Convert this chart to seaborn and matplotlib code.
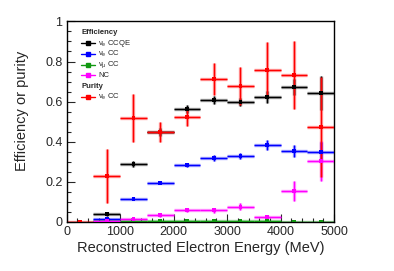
import numpy as np
import pandas as pd
import matplotlib
matplotlib.use("Agg")
import matplotlib.pyplot as plt
import seaborn as sns
from matplotlib.ticker import MultipleLocator

# bin centres (MeV), half width of each bin
energy = [250, 750, 1250, 1750, 2250, 2750, 3250, 3750, 4250, 4750]
half_bin = 250

# efficiency curves
eff_nue_ccqe = [np.nan, 0.038, 0.288, 0.450, 0.563, 0.608, 0.600, 0.625, 0.675, 0.645]
err_nue_ccqe = [np.nan, 0.010, 0.015, 0.020, 0.020, 0.020, 0.020, 0.030, 0.040, 0.085]
eff_nue_cc = [np.nan, 0.015, 0.115, 0.196, 0.282, 0.321, 0.331, 0.384, 0.354, 0.348]
err_nue_cc = [np.nan, 0.005, 0.008, 0.008, 0.010, 0.015, 0.015, 0.025, 0.030, 0.050]
eff_numu_cc = [np.nan, 0.003, 0.003, 0.007, 0.007, 0.005, 0.005, 0.005, 0.002, 0.002]
err_numu_cc = [np.nan, 0.002, 0.002, 0.003, 0.003, 0.003, 0.003, 0.003, 0.002, 0.002]
eff_nc = [np.nan, 0.005, 0.013, 0.033, 0.060, 0.058, 0.076, 0.023, 0.155, 0.304]
err_nc = [np.nan, 0.004, 0.005, 0.008, 0.010, 0.012, 0.018, 0.010, 0.050, 0.100]

# purity
pur_nue_cc = [0.0, 0.229, 0.520, 0.450, 0.525, 0.712, 0.678, 0.758, 0.733, 0.472]
err_pur_nue_cc = [0.0, 0.135, 0.120, 0.050, 0.045, 0.080, 0.095, 0.140, 0.170, 0.250]

series = [
    ("Efficiency", r"$\mathregular{\nu_e}$ CCQE", eff_nue_ccqe, err_nue_ccqe, "black"),
    ("Efficiency", r"$\mathregular{\nu_e}$ CC", eff_nue_cc, err_nue_cc, "#0000ff"),
    ("Efficiency", r"$\mathregular{\nu_\mu}$ CC", eff_numu_cc, err_numu_cc, "#119911"),
    ("Efficiency", "NC", eff_nc, err_nc, "#ff00ff"),
    ("Purity", r"$\mathregular{\nu_e}$ CC", pur_nue_cc, err_pur_nue_cc, "#ff0000"),
]

sns.set_theme(style="ticks")
plt.rcParams["font.family"] = ["Liberation Sans", "DejaVu Sans"]

fig = plt.figure(figsize=(3.94, 2.71), dpi=100)
ax = fig.add_axes([0.169, 0.181, 0.679, 0.740])

rows = []
for group, label, vals, errs, color in series:
    e = np.array(errs)
    # translucent band first, then solid cross on top
    ax.errorbar(energy, vals, xerr=half_bin, yerr=e, fmt="none", ecolor=color,
                elinewidth=2.4, alpha=0.4, capsize=0, zorder=2)
    ax.errorbar(energy, vals, xerr=half_bin, yerr=e, fmt="none", ecolor=color,
                elinewidth=0.9, capsize=0, zorder=3)
    for x, v in zip(energy, vals):
        rows.append({"energy": x, "value": v, "series": group + label})

df = pd.DataFrame(rows).dropna()
palette = {g + l: c for g, l, _, _, c in series}
sns.scatterplot(data=df, x="energy", y="value", hue="series", palette=palette,
                marker="s", s=8, linewidth=0, legend=False, ax=ax, zorder=4)

ax.set_xlim(0, 5000)
ax.set_ylim(0, 1)
ax.xaxis.set_major_locator(MultipleLocator(1000))
ax.xaxis.set_minor_locator(MultipleLocator(200))
ax.yaxis.set_major_locator(MultipleLocator(0.2))
ax.yaxis.set_minor_locator(MultipleLocator(0.05))
ax.set_yticks([0, 0.2, 0.4, 0.6, 0.8, 1.0])
ax.set_yticklabels(["0", "0.2", "0.4", "0.6", "0.8", "1"])
ax.tick_params(which="both", direction="in", labelsize=9, pad=3, width=0.8)
ax.tick_params(which="major", length=6)
ax.tick_params(which="minor", length=3)
for s in ax.spines.values():
    s.set_linewidth(1.0)
    s.set_color("black")

ax.set_xlabel("Reconstructed Electron Energy (MeV)", fontsize=10.5, labelpad=2)
ax.set_ylabel("Efficiency or purity", fontsize=10.5, labelpad=6)
ax.yaxis.set_label_coords(-0.14, 0.555)

# hand-built ROOT style legend
tr = ax.transAxes
y0, dy = 0.944, 0.0534
lx0, lx1, tx = 0.054, 0.107, 0.118
row = 0
last_group = None
for group, label, _, _, color in series:
    if group != last_group:
        ax.text(lx0, y0 - row * dy, group, transform=tr, fontsize=5.5,
                fontweight="bold", va="center", ha="left")
        row += 1
        last_group = group
    yy = y0 - row * dy
    ax.plot([lx0, lx1], [yy, yy], color=color, lw=1.0, transform=tr)
    ax.plot([(lx0 + lx1) / 2], [yy], marker="s", ms=2.5, color=color, transform=tr)
    ax.text(tx, yy, label, transform=tr, fontsize=5.5, va="center", ha="left")
    row += 1

fig.savefig("out.png", dpi=100)
